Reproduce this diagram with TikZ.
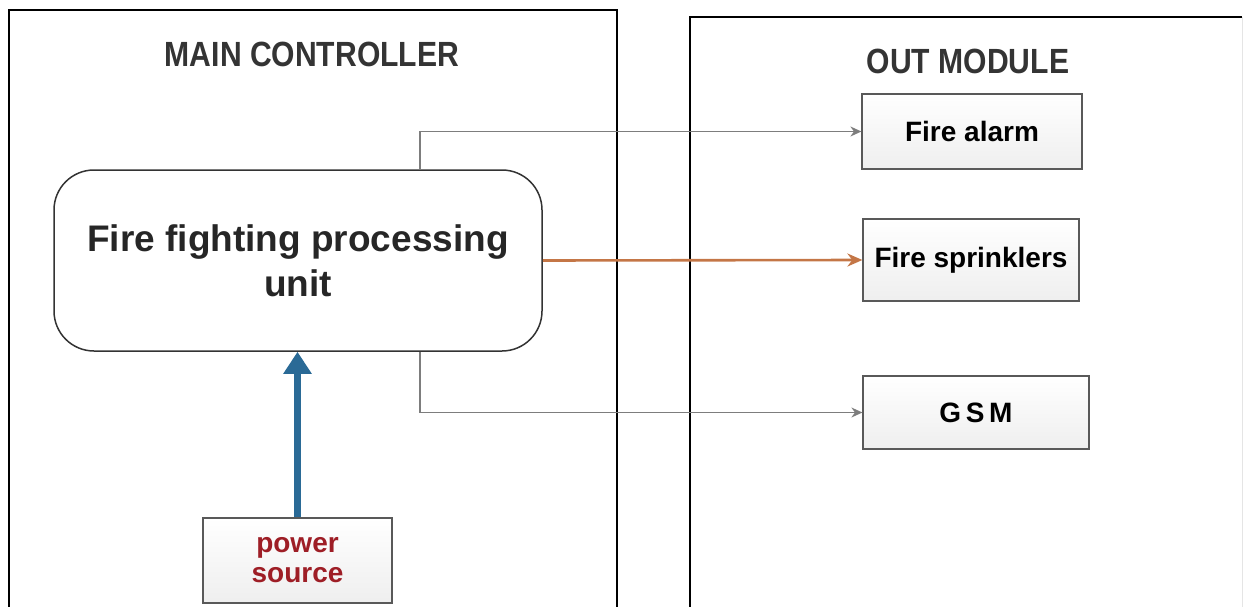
\documentclass[tikz,border=0pt]{standalone}
\usepackage{fontspec}
\setmainfont{Liberation Sans}
\newfontfamily\narrowfont{Liberation Sans}[FakeStretch=0.86]
\usetikzlibrary{shapes,arrows.meta,positioning}

\definecolor{powerred}{RGB}{158,30,38}
\definecolor{linegray}{RGB}{125,125,125}
\definecolor{wireorange}{RGB}{196,118,70}
\definecolor{powerblue}{RGB}{42,106,150}
\definecolor{titlegray}{RGB}{52,52,52}

\begin{document}
\begin{tikzpicture}[x=1pt, y=-1pt,
	module/.style={rectangle, draw=gray!70!black, line width=1.2pt, top color=white, bottom color=gray!13, font=\bfseries\fontsize{28}{30}\selectfont, align=center},
	title/.style={anchor=base, text=titlegray, font=\narrowfont\bfseries\fontsize{35}{40}\selectfont},
	conn/.style={draw=linegray, line width=1.3pt, -{Stealth[length=11pt,width=10pt]}}]
	\useasboundingbox (0,0) rectangle (1250,607);
	% frames
	\draw [black, line width=1.8pt] (9,620) -- (9,10) -- (617,10) -- (617,620);
	\draw [black, line width=1.8pt] (690,620) -- (690,17) -- (1242,17);
	\draw [gray!20, line width=1pt] (1242,17) -- (1242,620);
	\node [title] (maintitle) at (312,67) {MAIN CONTROLLER};
	\node [title] (outtitle) at (968,74) {OUT MODULE};
	\node [rectangle, rounded corners=40pt, draw=black!80, line width=1.5pt, minimum width=488pt, minimum height=181pt, align=center, text=black!85, font=\bfseries\fontsize{37}{45}\selectfont] (unit) at (298,260.5) {Fire fighting processing\\unit};
	\node [module, minimum width=189pt, minimum height=85pt, text=powerred] (power) at (297.5,560.5) {power\\source};
	\node [module, minimum width=220pt, minimum height=75pt] (alarm) at (972,131.5) {Fire alarm};
	\node [module, minimum width=216pt, minimum height=82pt] (sprink) at (971,260) {Fire sprinklers};
	\node [module, minimum width=226pt, minimum height=73pt] (gsm) at (976,412.5) {G\,S\,M};
	\coordinate (tap) at (420,0);
	% connectors
	\draw [conn] (unit.north -| tap) |- (alarm.west);
	\draw [conn] (unit.south -| tap) |- (gsm.west);
	\draw [wireorange, line width=2.6pt, -{Stealth[length=15pt,width=13pt]}] (unit.east) -- (sprink.west);
	\draw [powerblue, line width=7pt, -{Triangle[length=22pt,width=27pt]}] (power.north) -- (unit.south -| power.north);
\end{tikzpicture}
\end{document}
